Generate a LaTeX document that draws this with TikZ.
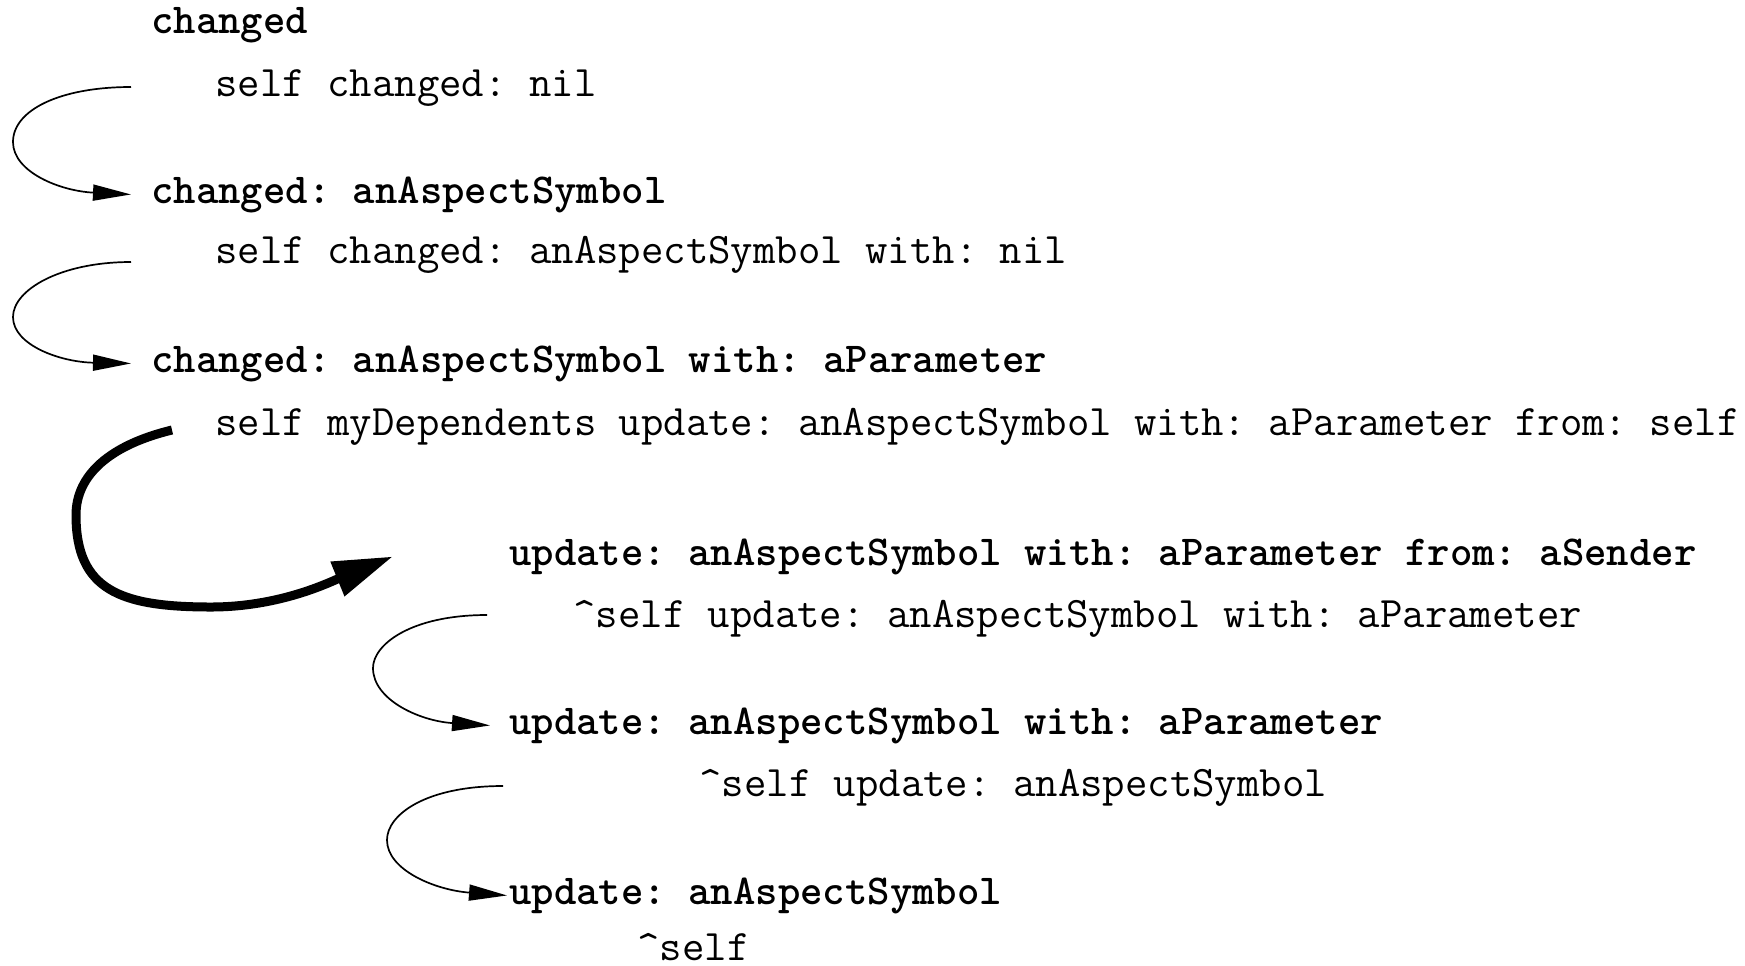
\documentclass[tikz,border=0pt]{standalone}
\usepackage{fontspec}
\usetikzlibrary{arrows.meta,calc}
\begin{document}
\frenchspacing
\begin{tikzpicture}[x=0.5pt,y=-0.5pt,
  code/.style={anchor=base west, inner sep=0pt, font=\fontsize{21.76}{24}\selectfont\ttfamily\frenchspacing},
  head/.style={anchor=base west, inner sep=0pt, font=\fontsize{21.33}{24}\selectfont\ttfamily\bfseries\frenchspacing},
  thinarrow/.style={line width=0.85pt, -{Triangle[length=19pt,width=8pt]}},
  thickarrow/.style={line width=4.5pt, -{Triangle[length=30pt,width=17.5pt]}}]
\useasboundingbox (0,0) rectangle (1745,965);
\node[head] (h1) at (151,33) {changed};
\node[code] (c1) at (215,96) {self changed: nil};
\node[head] (h2) at (151,203) {changed: anAspectSymbol};
\node[code] (c2) at (215,263) {self changed: anAspectSymbol with: nil};
\node[head] (u0) at (151,372) {changed: anAspectSymbol with: aParameter};
\node[code] (c3) at (215,435) {self myDependents update: anAspectSymbol with: aParameter from: self};
\node[head] (u1) at (509,565) {update: anAspectSymbol with: aParameter from: aSender};
\node[code] (d1) at (573,627) {\string^self update: anAspectSymbol with: aParameter};
\node[head] (u2) at (509,734) {update: anAspectSymbol with: aParameter};
\node[code] (d2) at (699,796) {\string^self update: anAspectSymbol};
\node[head] (u3) at (509,904) {update: anAspectSymbol};
\node[code] (d3) at (637,960) {\string^self};
\coordinate (s1) at (131,87);
\coordinate (s2) at (131,262);
\coordinate (s3) at (172,430);
\coordinate (s4) at (487,615);
\coordinate (s5) at (503,786);
\draw[thinarrow] (s1) .. controls (60,87) and (13,110) .. (13,142)
  .. controls (13,172) and (60,191) .. ($(h2.west)+(-20,0)$);
\draw[thinarrow] (s2) .. controls (60,262) and (13,290) .. (13,317)
  .. controls (13,345) and (60,362) .. ($(u0.west)+(-20,0)$);
\draw[thickarrow] (s3) .. controls (110,445) and (76,475) .. (76,515)
  .. controls (76,590) and (120,607) .. (211,607)
  .. controls (280,607) and (330,582) .. ($(u1.west)+(-116,0)$);
\draw[thinarrow] (s4) .. controls (410,615) and (373,645) .. (373,668)
  .. controls (373,700) and (420,721) .. ($(u2.west)+(-19,0)$);
\draw[thinarrow] (s5) .. controls (425,786) and (387,815) .. (387,840)
  .. controls (387,870) and (435,890) .. ($(u3.west)+(-2,0)$);
\end{tikzpicture}
\end{document}
